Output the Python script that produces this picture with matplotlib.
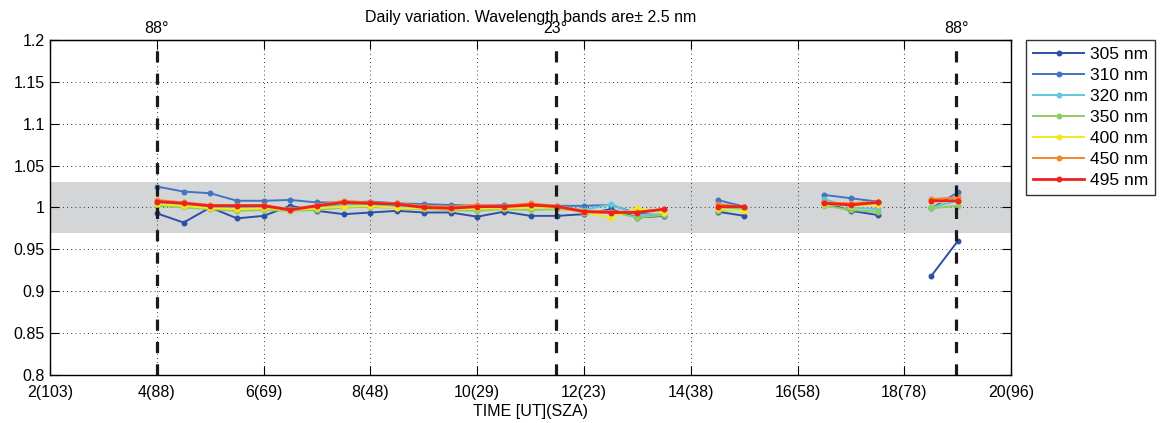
import numpy as np
import matplotlib.pyplot as plt

# time axis (UT hours), NaN gaps break the lines
czas = [4.0, 4.5, 5.0, 5.5, 6.0, 6.5, 7.0, 7.5, 8.0, 8.5, 9.0, 9.5, 10.0, 10.5,
        11.0, 11.5, 12.0, 12.5, 13.0, 13.5, 14.0, 14.5, 15.0, 15.5, 16.0,
        16.5, 17.0, 17.5, 18.0, 18.5, 19.0]
nan = np.nan

w305 = [0.993, 0.982, 1.000, 0.987, 0.990, 1.002, 0.996, 0.992, 0.994, 0.996,
        0.994, 0.994, 0.989, 0.995, 0.990, 0.990, 0.992, 0.998, 0.988, 0.990,
        nan, 0.995, 0.990, nan, nan, 1.006, 0.996, 0.991, nan, 0.918, 0.960]
w310 = [1.025, 1.019, 1.017, 1.008, 1.008, 1.009, 1.006, 1.006, 1.007, 1.005,
        1.004, 1.003, 1.002, 1.003, 1.002, 1.002, 1.002, 1.003, 0.993, 0.990,
        nan, 1.009, 1.001, nan, nan, 1.015, 1.011, 1.007, nan, 0.999, 1.018]
w320 = [1.005, 1.003, 1.001, 1.000, 1.001, 0.998, 1.000, 1.003, 1.003, 1.002,
        1.001, 1.000, 1.000, 1.001, 1.002, 1.001, 0.997, 1.004, 0.991, 0.992,
        nan, 0.999, 0.999, nan, nan, 1.010, 1.000, 0.998, nan, 1.000, 1.008]
w350 = [1.002, 1.000, 0.998, 0.996, 0.997, 0.996, 0.997, 1.000, 1.001, 0.999,
        0.998, 0.997, 0.996, 0.998, 0.997, 0.998, 0.996, 0.995, 0.988, 0.991,
        nan, 0.996, 0.998, nan, nan, 1.002, 0.997, 0.995, nan, 0.999, 1.002]
w400 = [1.004, 1.002, 0.999, 0.998, 0.999, 0.997, 0.999, 1.001, 1.002, 0.999,
        0.999, 0.998, 0.999, 0.999, 1.000, 1.000, 0.994, 0.988, 0.999, 0.993,
        nan, 0.998, 0.996, nan, nan, 1.004, 1.002, 1.003, nan, 1.006, 1.008]
w450 = [1.009, 1.006, 1.003, 1.003, 1.003, 0.998, 1.003, 1.008, 1.006, 1.005,
        1.002, 1.001, 1.003, 1.002, 1.005, 1.002, 0.996, 0.995, 0.995, 0.998,
        nan, 1.004, 1.001, nan, nan, 1.006, 1.005, 1.007, nan, 1.010, 1.012]
w495 = [1.007, 1.005, 1.002, 1.002, 1.002, 0.997, 1.002, 1.006, 1.005, 1.004,
        1.000, 0.999, 1.001, 1.001, 1.003, 1.001, 0.995, 0.994, 0.994, 0.998,
        nan, 1.001, 1.001, nan, nan, 1.005, 1.003, 1.006, nan, 1.008, 1.008]

serie = [w305, w310, w320, w350, w400, w450, w495]
etykiety = ['305 nm', '310 nm', '320 nm', '350 nm', '400 nm', '450 nm', '495 nm']
kolory = ['#2d4fa6', '#3f75c4', '#5ec8db', '#8dcd5e', '#f2e81c', '#f2862a', '#ee2020']

xticks = [2, 4, 6, 8, 10, 12, 14, 16, 18, 20]
xlabels = ['2(103)', '4(88)', '6(69)', '8(48)', '10(29)', '12(23)', '14(38)',
           '16(58)', '18(78)', '20(96)']
yticks = [0.8, 0.85, 0.9, 0.95, 1.0, 1.05, 1.1, 1.15, 1.2]
ylabels = ['0.8', '0.85', '0.9', '0.95', '1', '1.05', '1.1', '1.15', '1.2']
sza_x = [4.0, 11.47, 18.97]
sza_lab = ['88°', '23°', '88°']

plt.rcParams['font.family'] = ['Liberation Sans', 'DejaVu Sans']

fig = plt.figure(figsize=(11.65, 4.23), dpi=100)
ax = fig.add_axes([0.043, 0.1135, 0.825, 0.792])

ax.axhspan(0.97, 1.03, color='#d4d5d7', zorder=0, lw=0)

for y, lab, kol in zip(serie, etykiety, kolory):
    lw = 2.0 if lab == '495 nm' else 1.4
    ax.plot(czas, y, '.-', color=kol, lw=lw, ms=6.5, label=lab, zorder=3)

for x in sza_x:
    ax.axvline(x, color='#1a1a1a', lw=2.3, ls=(0, (3.5, 3.5)), zorder=4)

ax.set_xlim(2, 20)
ax.set_ylim(0.8, 1.2)
ax.set_xticks(xticks)
ax.set_xticklabels(xlabels, fontsize=11.5)
ax.set_yticks(yticks)
ax.set_yticklabels(ylabels, fontsize=11.5)
ax.tick_params(direction='in', top=True, right=True, length=6.5, width=0.8, pad=4)
ax.tick_params(axis='x', pad=7)
ax.grid(True, ls=(0, (1, 4)), color='black', lw=0.6)
ax.set_xlabel('TIME [UT](SZA)', fontsize=11.5, labelpad=3)
for s in ax.spines.values():
    s.set_linewidth(1.0)

sec = ax.secondary_xaxis('top')
sec.set_xticks(sza_x)
sec.set_xticklabels(sza_lab, fontsize=11.5)
sec.tick_params(length=0, pad=3)

ax.text(0.5, 1.066, 'Daily variation. Wavelength bands are\u00b1 2.5 nm',
        transform=ax.transAxes, ha='center', va='center', fontsize=11.5)

leg = ax.legend(loc='upper left', bbox_to_anchor=(1.0156, 1.0), fontsize=12.5,
                frameon=True, fancybox=False, edgecolor='black', handlelength=2.95,
                handletextpad=0.3, borderpad=0.4, labelspacing=0.34, borderaxespad=0)
leg.get_frame().set_linewidth(1.0)

fig.savefig('out.png', dpi=100)
